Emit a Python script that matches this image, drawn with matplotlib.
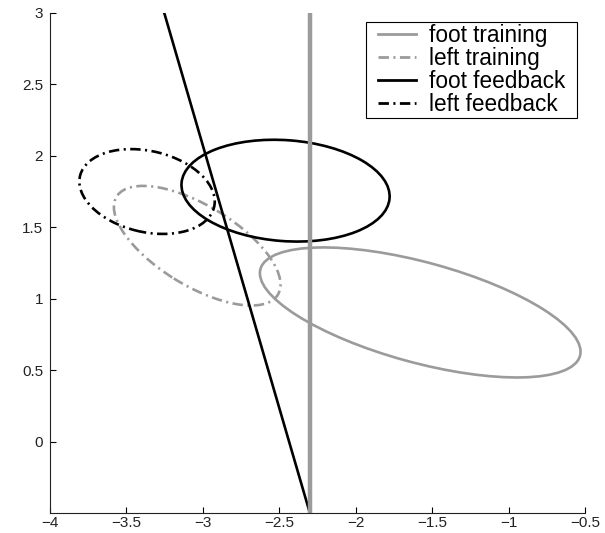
import matplotlib
matplotlib.use('Agg')
import matplotlib.pyplot as plt
from matplotlib.patches import Ellipse, Rectangle
from matplotlib.lines import Line2D
from matplotlib.transforms import IdentityTransform

plt.rcParams['font.family'] = ['Liberation Sans', 'DejaVu Sans']
plt.rcParams['lines.scale_dashes'] = False

# Class ellipses: centre, full width, full height, rotation (deg)
labels = ['foot training', 'left training', 'foot feedback', 'left feedback']
centers_x = [-1.578, -3.037, -2.459, -3.365]
centers_y = [0.903, 1.370, 1.755, 1.749]
widths = [2.177, 1.259, 1.365, 0.904]
heights = [0.699, 0.551, 0.706, 0.565]
angles = [-16.4, -33.8, -4.6, -14.9]

# Separating lines
training_boundary_x = -2.30
feedback_line_x = [-3.253, -2.30]
feedback_line_y = [3.0, -0.5]

xticks = [-4, -3.5, -3, -2.5, -2, -1.5, -1, -0.5]
xtick_labels = ['\u22124', '\u22123.5', '\u22123', '\u22122.5', '\u22122', '\u22121.5', '\u22121', '\u22120.5']
yticks = [0, 0.5, 1, 1.5, 2, 2.5, 3]
ytick_labels = ['0', '0.5', '1', '1.5', '2', '2.5', '3']

gray = '#9b9b9b'
dashdot = (0, (7.5, 3.2, 1.5, 3.2))
colors = [gray, gray, 'black', 'black']
styles = ['-', dashdot, '-', dashdot]

fig = plt.figure(figsize=(6.05, 5.33), dpi=100)
ax = fig.add_axes([50 / 605, 20 / 533, 535 / 605, 500.3 / 533])

for i in range(len(labels)):
    ax.add_patch(Ellipse((centers_x[i], centers_y[i]), widths[i], heights[i],
                         angle=angles[i], fill=False, edgecolor=colors[i],
                         linestyle=styles[i], linewidth=1.9))

ax.plot(feedback_line_x, feedback_line_y, color='black', linewidth=1.9)
ax.axvline(training_boundary_x, color=gray, linewidth=3.2)

ax.set_xlim(-4, -0.5)
ax.set_ylim(-0.5, 3)
ax.set_xticks(xticks)
ax.set_xticklabels(xtick_labels)
ax.set_yticks(yticks)
ax.set_yticklabels(ytick_labels)
ax.tick_params(direction='in', length=4.5, width=0.8, labelsize=11,
               labelcolor='#222222', top=False, right=False, pad=5)
ax.tick_params(axis='x', pad=2.5)
ax.spines['top'].set_visible(False)
ax.spines['right'].set_visible(False)
for s in ['left', 'bottom']:
    ax.spines[s].set_linewidth(0.8)
    ax.spines[s].set_color('#222222')

handles = [Line2D([], [], color=colors[i], linestyle=styles[i], linewidth=2.0)
           for i in range(len(labels))]
leg = ax.legend(handles, labels, loc='upper right', bbox_to_anchor=(0.9626, 0.977),
                fontsize=16.3, frameon=False, handlelength=1.7, handletextpad=0.55,
                labelspacing=0.0, borderpad=0, borderaxespad=0)

# legend frame with wider side padding than top/bottom
fig.canvas.draw()
bb = leg.get_window_extent()
fig.add_artist(Rectangle((bb.x0 - 12, bb.y0 - 2), bb.width + 24, bb.height + 4,
                         transform=IdentityTransform(), fill=False,
                         edgecolor='black', linewidth=0.8))

fig.savefig('out.png', dpi=100)
